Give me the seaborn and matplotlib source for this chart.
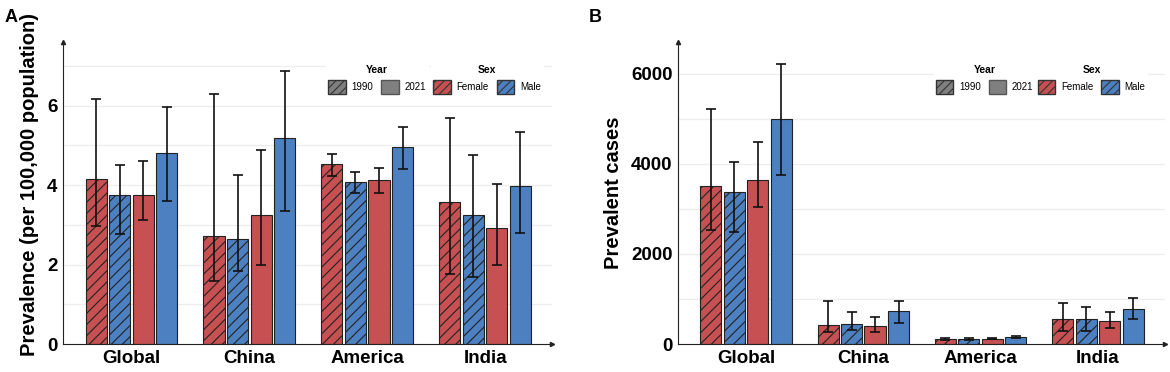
import pandas as pd
import matplotlib.pyplot as plt
import numpy as np
import seaborn as sns
from matplotlib.patches import Patch

regions = ['Global', 'China', 'America', 'India']
groups = ['Female 1990', 'Male 1990', 'Female 2021', 'Male 2021']

# panel A: prevalence per 100,000 (value, lower, upper)
rate_f1990 = [4.16, 2.71, 4.52, 3.58]
rate_f1990_lo = [2.98, 1.60, 4.24, 1.77]
rate_f1990_hi = [6.17, 6.28, 4.79, 5.70]
rate_m1990 = [3.76, 2.65, 4.08, 3.26]
rate_m1990_lo = [2.77, 1.83, 3.81, 1.70]
rate_m1990_hi = [4.51, 4.26, 4.34, 4.75]
rate_f2021 = [3.74, 3.24, 4.12, 2.91]
rate_f2021_lo = [3.12, 1.99, 3.81, 1.98]
rate_f2021_hi = [4.61, 4.88, 4.44, 4.03]
rate_m2021 = [4.80, 5.18, 4.95, 3.98]
rate_m2021_lo = [3.60, 3.34, 4.41, 2.80]
rate_m2021_hi = [5.97, 6.86, 5.45, 5.34]

# panel B: prevalent cases (value, lower, upper)
cases_f1990 = [3513, 422, 120, 562]
cases_f1990_lo = [2523, 260, 100, 290]
cases_f1990_hi = [5215, 961, 135, 910]
cases_m1990 = [3367, 451, 110, 562]
cases_m1990_lo = [2479, 311, 95, 300]
cases_m1990_hi = [4032, 717, 125, 815]
cases_f2021 = [3640, 406, 120, 517]
cases_f2021_lo = [3034, 260, 105, 348]
cases_f2021_hi = [4490, 606, 135, 717]
cases_m2021 = [4993, 726, 150, 777]
cases_m2021_lo = [3750, 473, 135, 548]
cases_m2021_hi = [6207, 961, 170, 1028]

red = '#C65052'
blue = '#4C80C1'
palette = {'Female 1990': red, 'Male 1990': blue, 'Female 2021': red, 'Male 2021': blue}

sns.set_style('white')
plt.rcParams['font.family'] = ['Liberation Sans', 'DejaVu Sans']
plt.rcParams['hatch.linewidth'] = 0.8
plt.rcParams['text.color'] = 'black'
plt.rcParams['axes.labelcolor'] = 'black'
plt.rcParams['xtick.color'] = 'black'
plt.rcParams['ytick.color'] = 'black'


def draw_panel(ax, vals, los, his, ylabel, ylim, major, minor, label_y=0.5):
    df = pd.DataFrame({
        'Region': regions * 4,
        'Group': [g for g in groups for _ in regions],
        'Value': sum(vals, []),
    })
    sns.barplot(data=df, x='Region', y='Value', hue='Group', hue_order=groups,
                order=regions, palette=palette, errorbar=None, width=0.8, gap=0.1,
                edgecolor='#222222', linewidth=0.8, saturation=1, legend=False, ax=ax)
    bar_conts = list(ax.containers)
    for i, cont in enumerate(bar_conts):
        xs = []
        for bar in cont:
            if '1990' in groups[i]:
                bar.set_hatch('///')
            xs.append(bar.get_x() + bar.get_width() / 2)
        v = np.array(vals[i])
        err = [v - np.array(los[i]), np.array(his[i]) - v]
        ax.errorbar(xs, v, yerr=err, fmt='none', ecolor='#111111',
                    elinewidth=1.2, capsize=3.5, capthick=1.2, zorder=5)

    ax.set_xlim(-0.58, 3.57)
    ax.set_ylim(*ylim)
    ax.set_yticks(major)
    ax.set_yticks(minor, minor=True)
    ax.grid(axis='y', which='both', color='#EDEDED', linewidth=0.9)
    ax.set_axisbelow(True)
    ax.tick_params(axis='both', which='both', length=0, labelsize=13.5, pad=4)
    for lab in ax.get_xticklabels() + ax.get_yticklabels():
        lab.set_fontweight('bold')
    ax.set_xlabel('')
    ax.set_ylabel(ylabel, fontsize=14.5, fontweight='bold', labelpad=6)
    ax.yaxis.label.set_y(label_y)
    sns.despine(ax=ax)
    ax.spines['left'].set_color('#222222')
    ax.spines['bottom'].set_color('#222222')
    ax.plot(1, 0, '>', color='#222222', ms=3, transform=ax.transAxes, clip_on=False)
    ax.plot(0, 1, '^', color='#222222', ms=3, transform=ax.transAxes, clip_on=False)


def add_legends(ax, x_year, x_sex):
    year_handles = [Patch(facecolor='#808080', edgecolor='#333333', hatch='////', label='1990'),
                    Patch(facecolor='#808080', edgecolor='#555555', label='2021')]
    sex_handles = [Patch(facecolor=red, edgecolor='#333333', hatch='////', label='Female'),
                   Patch(facecolor=blue, edgecolor='#333333', hatch='////', label='Male')]
    kw = dict(loc='upper center', ncol=2, frameon=True, fontsize=7, title_fontsize=7.5,
              handlelength=1.8, handleheight=1.8, columnspacing=0.8, handletextpad=0.6,
              borderpad=0.2, edgecolor='white', facecolor='white', framealpha=1)
    leg1 = ax.legend(handles=year_handles, title='Year', bbox_to_anchor=(x_year, 0.945), **kw)
    leg1.get_title().set_fontweight('bold')
    ax.add_artist(leg1)
    leg2 = ax.legend(handles=sex_handles, title='Sex', bbox_to_anchor=(x_sex, 0.945), **kw)
    leg2.get_title().set_fontweight('bold')


fig = plt.figure(figsize=(11.7, 3.72), dpi=100)
ax1 = fig.add_axes([0.054, 0.075, 0.418, 0.812])
ax2 = fig.add_axes([0.5795, 0.075, 0.416, 0.812])

draw_panel(ax1,
           [rate_f1990, rate_m1990, rate_f2021, rate_m2021],
           [rate_f1990_lo, rate_m1990_lo, rate_f2021_lo, rate_m2021_lo],
           [rate_f1990_hi, rate_m1990_hi, rate_f2021_hi, rate_m2021_hi],
           'Prevalence (per 100,000 population)', (0, 7.6), [0, 2, 4, 6], [1, 3, 5, 7],
           label_y=0.53)
draw_panel(ax2,
           [cases_f1990, cases_m1990, cases_f2021, cases_m2021],
           [cases_f1990_lo, cases_m1990_lo, cases_f2021_lo, cases_m2021_lo],
           [cases_f1990_hi, cases_m1990_hi, cases_f2021_hi, cases_m2021_hi],
           'Prevalent cases', (0, 6700), [0, 2000, 4000, 6000], [1000, 3000, 5000])

add_legends(ax1, 0.642, 0.867)
add_legends(ax2, 0.630, 0.850)

fig.text(0.004, 0.975, 'A', fontsize=13, fontweight='bold', va='top')
fig.text(0.503, 0.975, 'B', fontsize=13, fontweight='bold', va='top')

fig.savefig('out.png', dpi=100)
